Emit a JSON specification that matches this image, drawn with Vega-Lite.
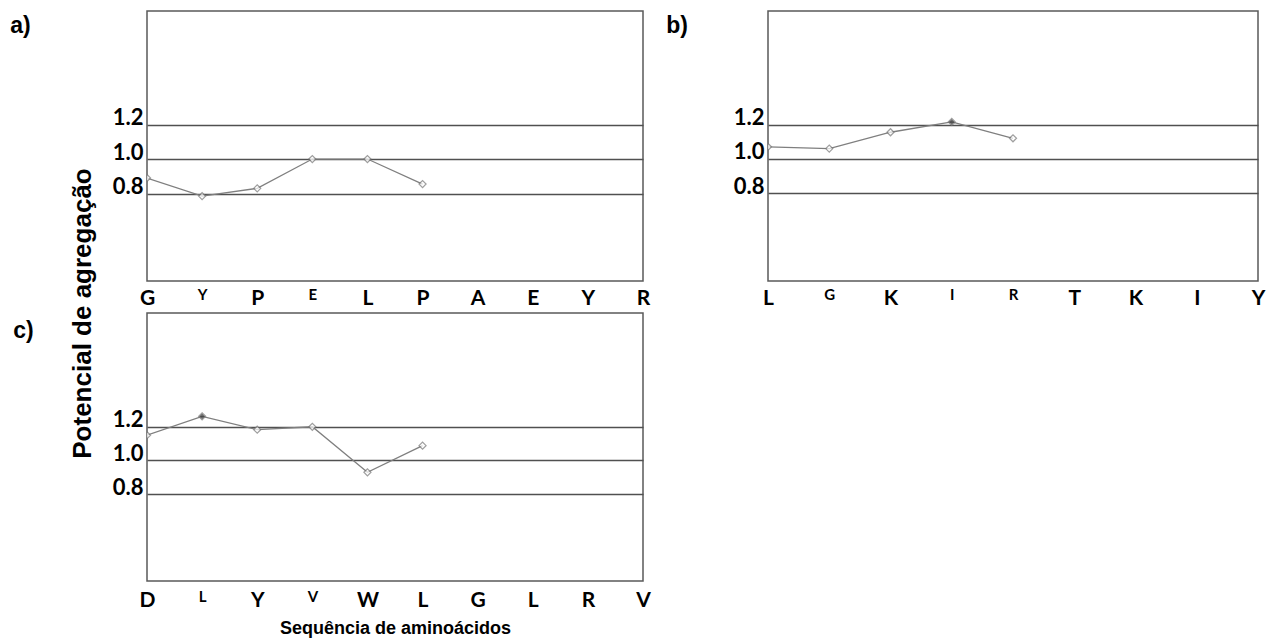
{
  "$schema": "https://vega.github.io/schema/vega-lite/v6.json",
  "padding": {"left": 9, "top": 10, "right": 0, "bottom": 0},
  "autosize": {"type": "pad"},
  "config": {
    "view": {"stroke": "#5a5a5a", "strokeWidth": 1.5},
    "font": "Lato",
    "axisY": {"ticks": false, "domain": false, "grid": true, "gridColor": "#505050", "gridWidth": 1.5, "labelFont": "Lato", "labelFontWeight": "bold", "labelFontSize": 22, "labelColor": "#000000", "labelBaseline": "alphabetic", "labelPadding": 4},
    "axisX": {"ticks": false, "domain": false, "grid": false, "labelFont": "Lato", "labelFontWeight": "bold", "labelColor": "#000000", "labelPadding": 6, "labelFlush": false, "labelOverlap": false, "labelBound": false},
    "title": {"font": "Liberation Sans", "fontWeight": "bold", "fontSize": 23, "color": "#000000", "anchor": "start", "baseline": "alphabetic"}
  },
  "datasets": {
    "a": [
      {"pos": 0, "valor": 0.89, "destaque": "não"},
      {"pos": 1, "valor": 0.785, "destaque": "não"},
      {"pos": 2, "valor": 0.83, "destaque": "não"},
      {"pos": 3, "valor": 1.0, "destaque": "não"},
      {"pos": 4, "valor": 1.0, "destaque": "não"},
      {"pos": 5, "valor": 0.855, "destaque": "não"}
    ],
    "b": [
      {"pos": 0, "valor": 1.07, "destaque": "não"},
      {"pos": 1, "valor": 1.06, "destaque": "não"},
      {"pos": 2, "valor": 1.155, "destaque": "não"},
      {"pos": 3, "valor": 1.215, "destaque": "sim"},
      {"pos": 4, "valor": 1.12, "destaque": "não"}
    ],
    "c": [
      {"pos": 0, "valor": 1.15, "destaque": "não"},
      {"pos": 1, "valor": 1.262, "destaque": "sim"},
      {"pos": 2, "valor": 1.183, "destaque": "não"},
      {"pos": 3, "valor": 1.2, "destaque": "não"},
      {"pos": 4, "valor": 0.93, "destaque": "não"},
      {"pos": 5, "valor": 1.088, "destaque": "não"}
    ]
  },
  "columns": 2,
  "spacing": {"row": 32, "column": 125},
  "bounds": "flush",
  "concat": [
    {
      "title": {"text": "a)", "dx": -102, "offset": -27},
      "width": 496,
      "height": 270,
      "data": {"name": "a"},
      "encoding": {
        "x": {"field": "pos", "type": "quantitative", "scale": {"domain": [0, 9], "nice": false, "zero": false},
              "axis": {"title": null, "values": [0,1,2,3,4,5,6,7,8,9], "labelExpr": "['G','Y','P','E','L','P','A','E','Y','R'][datum.value]",
                       "labelFontSize": {"condition": {"test": "datum.value == 1 || datum.value == 3", "value": 15}, "value": 21}}},
        "y": {"field": "valor", "type": "quantitative", "scale": {"domain": [0.293, 1.858], "nice": false, "zero": false},
              "axis": {"title": null, "values": [0.8, 1, 1.2], "format": ".1f"}}
      },
      "layer": [
        {"mark": {"type": "line", "color": "#7f7f7f", "strokeWidth": 1.3, "clip": true}},
        {"mark": {"type": "point", "shape": "diamond", "filled": true, "size": 50, "stroke": "#777777", "strokeWidth": 1.2, "clip": true},
         "encoding": {"fill": {"field": "destaque", "type": "nominal", "scale": {"domain": ["não", "sim"], "range": ["#ffffff", "#333333"]}, "legend": null}}}
      ]
    },
    {
      "title": {"text": "b)", "dx": -67, "offset": -27},
      "width": 490,
      "height": 270,
      "data": {"name": "b"},
      "encoding": {
        "x": {"field": "pos", "type": "quantitative", "scale": {"domain": [0, 8], "nice": false, "zero": false},
              "axis": {"title": null, "values": [0,1,2,3,4,5,6,7,8], "labelExpr": "['L','G','K','I','R','T','K','I','Y'][datum.value]",
                       "labelFontSize": {"condition": {"test": "datum.value == 1 || datum.value == 3 || datum.value == 4", "value": 15}, "value": 21}}},
        "y": {"field": "valor", "type": "quantitative", "scale": {"domain": [0.29, 1.86], "nice": false, "zero": false},
              "axis": {"title": null, "values": [0.8, 1, 1.2], "format": ".1f"}}
      },
      "layer": [
        {"mark": {"type": "line", "color": "#7f7f7f", "strokeWidth": 1.3, "clip": true}},
        {"mark": {"type": "point", "shape": "diamond", "filled": true, "size": 50, "stroke": "#777777", "strokeWidth": 1.2, "clip": true},
         "encoding": {"fill": {"field": "destaque", "type": "nominal", "scale": {"domain": ["não", "sim"], "range": ["#ffffff", "#333333"]}, "legend": null}}}
      ]
    },
    {
      "title": {"text": "c)", "dx": -56, "offset": -175},
      "width": 496,
      "height": 268,
      "data": {"name": "c"},
      "encoding": {
        "x": {"field": "pos", "type": "quantitative", "scale": {"domain": [0, 9], "nice": false, "zero": false},
              "axis": {"title": "Sequência de aminoácidos", "titleFont": "Liberation Sans", "titleFontWeight": "bold", "titleFontSize": 18, "titleColor": "#000000", "titlePadding": 9,
                       "labelPadding": 8,
                       "values": [0,1,2,3,4,5,6,7,8,9], "labelExpr": "['D','L','Y','V','W','L','G','L','R','V'][datum.value]",
                       "labelFontSize": {"condition": {"test": "datum.value == 1 || datum.value == 3", "value": 15}, "value": 21}}},
        "y": {"field": "valor", "type": "quantitative", "scale": {"domain": [0.285, 1.875], "nice": false, "zero": false},
              "axis": {"title": "Potencial de agregação", "titleFont": "Liberation Sans", "titleFontWeight": "bold", "titleFontSize": 26, "titleColor": "#000000",
                       "titleAnchor": "end", "titleAlign": "center", "titlePadding": 17, "values": [0.8, 1, 1.2], "format": ".1f"}}
      },
      "layer": [
        {"mark": {"type": "line", "color": "#7f7f7f", "strokeWidth": 1.3, "clip": true}},
        {"mark": {"type": "point", "shape": "diamond", "filled": true, "size": 50, "stroke": "#777777", "strokeWidth": 1.2, "clip": true},
         "encoding": {"fill": {"field": "destaque", "type": "nominal", "scale": {"domain": ["não", "sim"], "range": ["#ffffff", "#333333"]}, "legend": null}}}
      ]
    }
  ]
}
